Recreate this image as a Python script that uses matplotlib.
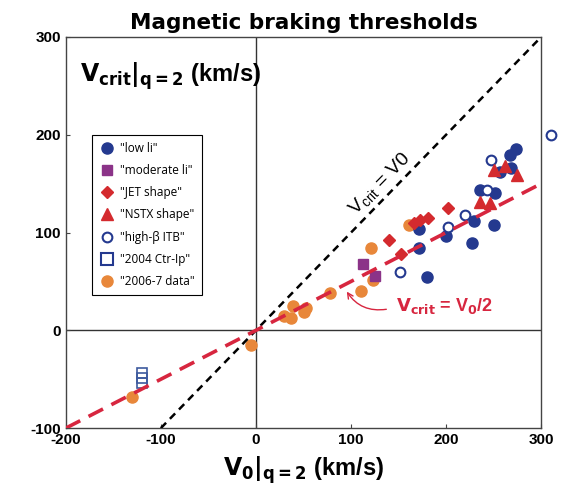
import numpy as np
import matplotlib.pyplot as plt

plt.rcParams['axes.unicode_minus'] = False

# data (km/s)
low_li_x = [180, 171, 171, 200, 227, 229, 250, 236, 251, 257, 267, 274, 268]
low_li_y = [55, 84, 104, 96, 89, 112, 108, 144, 140, 162, 179, 185, 166]
mod_li_x = [113, 125]
mod_li_y = [68, 56]
jet_x = [140, 153, 166, 173, 181, 202]
jet_y = [92, 78, 110, 113, 115, 125]
nstx_x = [236, 246, 250, 262, 275]
nstx_y = [131, 130, 164, 168, 159]
itb_x = [151, 202, 220, 247, 243, 310]
itb_y = [60, 106, 118, 174, 143, 200]
ctr_x = [-120, -120, -120]
ctr_y = [-44, -49, -54]
d2006_x = [-130, -5, 29, 39, 37, 51, 53, 78, 111, 123, 121, 161]
d2006_y = [-68, -15, 15, 25, 13, 19, 23, 38, 40, 51, 84, 108]

blue = '#24398f'
purple = '#8b3388'
red = '#d42a2e'
orange = '#e8873a'
crimson = '#d7263f'

fig = plt.figure(figsize=(5.62, 4.99), dpi=100)
ax = fig.add_axes([0.117, 0.142, 0.846, 0.784])
ax.set_xlim(-200, 300)
ax.set_ylim(-100, 300)

ax.axhline(0, color='#333333', lw=1.0, zorder=1)
ax.axvline(0, color='#333333', lw=1.0, zorder=1)

ms = 8
ax.plot(d2006_x, d2006_y, 'o', color=orange, ms=ms, mec=orange, ls='none', zorder=3)
ax.plot(mod_li_x, mod_li_y, 's', color=purple, ms=7.5, mec=purple, ls='none', zorder=3)
ax.plot(low_li_x, low_li_y, 'o', color=blue, ms=ms, mec=blue, ls='none', zorder=3)
ax.plot(itb_x, itb_y, 'o', mfc='white', mec=blue, mew=1.5, ms=7, ls='none', zorder=3, clip_on=False)
ax.plot(jet_x, jet_y, 'D', color=red, ms=6.5, mec=red, ls='none', zorder=3)
ax.plot(nstx_x, nstx_y, '^', color=red, ms=8, mec=red, ls='none', zorder=3)
ax.plot(ctr_x, ctr_y, 's', mfc='none', mec='#3d5a9e', mew=1.2, ms=7, ls='none', zorder=3)

# threshold lines
xv = np.array([-100, 300])
ax.plot(xv, xv, color='black', ls=(0, (3, 2.2)), lw=1.8, zorder=4)
xh = np.array([-200, 300])
ax.plot(xh, xh / 2, color=crimson, ls=(0, (4.5, 2.6)), lw=2.6, zorder=4)

ax.text(130, 150, r'$\mathregular{V_{crit}}$ = V0', rotation=45.5, ha='center', va='center',
        fontsize=14, family='Liberation Sans', zorder=5)
ax.text(198, 25, r'$\mathbf{V_{crit}}$ = V$\mathbf{_0}$/2', ha='center', va='center', fontsize=13,
        color=crimson, weight='bold', family='Liberation Sans', zorder=5)
ax.annotate('', xy=(94, 42), xytext=(140, 22),
            arrowprops=dict(arrowstyle='->', color=crimson, lw=1.0,
                            connectionstyle='arc3,rad=-0.35'))

# legend handles
h = []
h.append(ax.plot([], [], 'o', color=blue, ms=ms, label='"low li"')[0])
h.append(ax.plot([], [], 's', color=purple, ms=7.5, label='"moderate li"')[0])
h.append(ax.plot([], [], 'D', color=red, ms=6.5, label='"JET shape"')[0])
h.append(ax.plot([], [], '^', color=red, ms=8, label='"NSTX shape"')[0])
h.append(ax.plot([], [], 'o', mfc='white', mec=blue, mew=1.5, ms=7, label='"high-\u03b2 ITB"')[0])
h.append(ax.plot([], [], 's', mfc='none', mec=blue, mew=1.5, ms=8, label='"2004 Ctr-Ip"')[0])
h.append(ax.plot([], [], 'o', color=orange, ms=ms, label='"2006-7 data"')[0])
leg = ax.legend(handles=h, loc='upper left', bbox_to_anchor=(0.042, 0.765), fancybox=False,
                edgecolor='black', framealpha=1, prop={'family': 'Open Sans', 'size': 8.5},
                handletextpad=0.4, labelspacing=0.78, borderpad=0.6, handlelength=1.4)
leg.get_frame().set_linewidth(0.8)

ax.text(0.03, 0.94, r'$\mathbf{V_{crit}|_{q=2}}$ (km/s)', transform=ax.transAxes, fontsize=17,
        weight='bold', family='Liberation Sans', va='top', ha='left')
ax.set_xlabel(r'$\mathbf{V_0|_{q=2}}$ (km/s)', fontsize=17, weight='bold', family='Liberation Sans',
              labelpad=5)
ax.set_title('Magnetic braking thresholds', fontsize=15.5, weight='bold', family='DejaVu Sans', pad=6)

ax.set_xticks([-200, -100, 0, 100, 200, 300])
ax.set_yticks([-100, 0, 100, 200, 300])
ax.tick_params(direction='in', length=3, width=0.8, color='#444444', labelsize=11)
for lab in ax.get_xticklabels() + ax.get_yticklabels():
    lab.set_fontweight('bold')
    lab.set_family('Liberation Sans')
for s in ax.spines.values():
    s.set_color('#444444')
    s.set_linewidth(1.0)

fig.savefig('out.png', dpi=100)
